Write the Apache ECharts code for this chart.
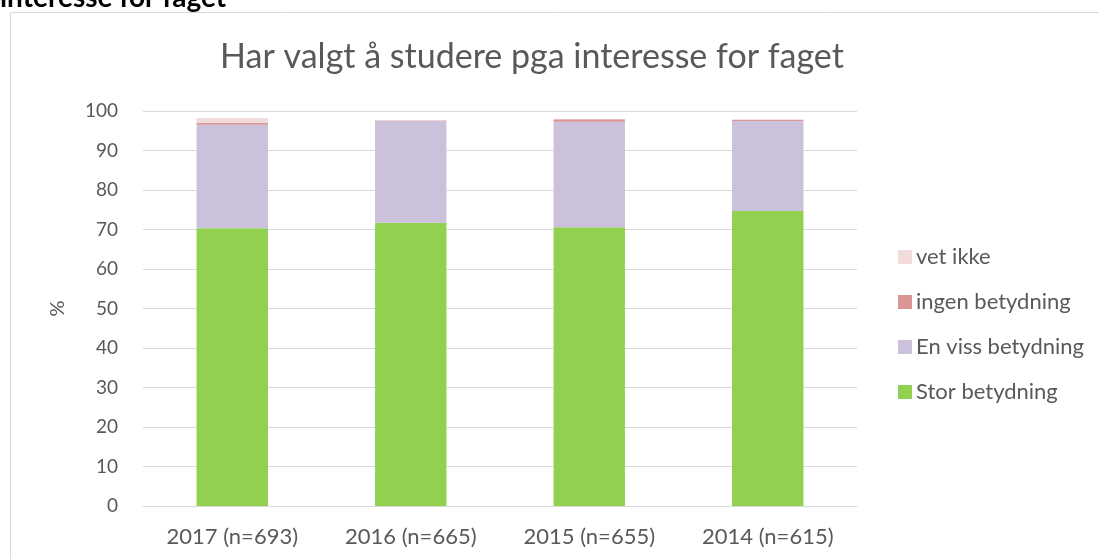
<!DOCTYPE html>
<html>
<head>
<meta charset="utf-8">
<script src="https://cdn.jsdelivr.net/npm/echarts@6/dist/echarts.min.js"></script>
<style>
  html, body { margin: 0; padding: 0; background: #fff; }
  #chart { width: 1099px; height: 559px; }
</style>
</head>
<body>
<div id="chart"></div>
<script>
// categories and values
const years = ["2017 (n=693)", "2016 (n=665)", "2015 (n=655)", "2014 (n=615)"];
const stor = [70.3, 71.7, 70.6, 74.7];
const enViss = [26.2, 25.8, 26.7, 22.8];
const ingen = [0.5, 0.1, 0.6, 0.3];
const vetIkke = [1.2, 0.1, 0.1, 0.1];
const yTicks = [0, 10, 20, 30, 40, 50, 60, 70, 80, 90, 100];

const font = "Lato, 'Open Sans', sans-serif";
const txt = "#595959";

const mychart = echarts.init(document.getElementById("chart"));

function bar(name, data, color) {
  return {
    name: name,
    type: "bar",
    stack: "total",
    data: data,
    barCategoryGap: "60%",
    itemStyle: { color: color },
    emphasis: { disabled: true }
  };
}

mychart.setOption({
  animation: false,
  title: {
    text: "Har valgt å studere pga interesse for faget",
    left: 527,
    textAlign: "center",
    top: 35,
    textStyle: { color: txt, fontSize: 34, fontWeight: "normal", fontFamily: font }
  },
  graphic: [
    {
      type: "rect",
      shape: { x: 10.5, y: 12.5, width: 1100, height: 560 },
      style: { fill: "none", stroke: "#d9d9d9", lineWidth: 1 },
      silent: true
    },
    {
      type: "text",
      x: 0,
      y: -16,
      style: { text: "interesse for faget", font: "bold 28px " + font, fill: "#000" }
    }
  ],
  legend: {
    orient: "vertical",
    left: 893,
    top: 241,
    itemGap: 23,
    itemWidth: 14,
    itemHeight: 14,
    icon: "rect",
    data: ["vet ikke", "ingen betydning", "En viss betydning", "Stor betydning"],
    textStyle: { color: txt, fontSize: 22, fontFamily: font, padding: [0, 0, 0, -1] }
  },
  grid: { left: 143, right: 242, top: 111, bottom: 53, containLabel: false },
  xAxis: {
    type: "category",
    data: years,
    axisLine: { lineStyle: { color: "#d9d9d9" } },
    axisTick: { show: false },
    axisLabel: { color: txt, fontSize: 22, fontFamily: font, margin: 20 }
  },
  yAxis: {
    type: "value",
    min: yTicks[0],
    max: yTicks[yTicks.length - 1],
    interval: 10,
    name: "%",
    nameLocation: "middle",
    nameRotate: 90,
    nameGap: 75,
    nameTextStyle: { color: txt, fontSize: 20, fontFamily: font },
    axisLine: { show: false },
    axisTick: { show: false },
    axisLabel: { color: txt, fontSize: 19, fontFamily: font, margin: 25 },
    splitLine: { lineStyle: { color: "#d9d9d9" } }
  },
  series: [
    bar("Stor betydning", stor, "#92D050"),
    bar("En viss betydning", enViss, "#CCC1DA"),
    bar("ingen betydning", ingen, "#D99694"),
    bar("vet ikke", vetIkke, "#F2DCDB")
  ]
});
window.addEventListener("resize", function () {
  mychart.resize();
});
</script>
</body>
</html>
